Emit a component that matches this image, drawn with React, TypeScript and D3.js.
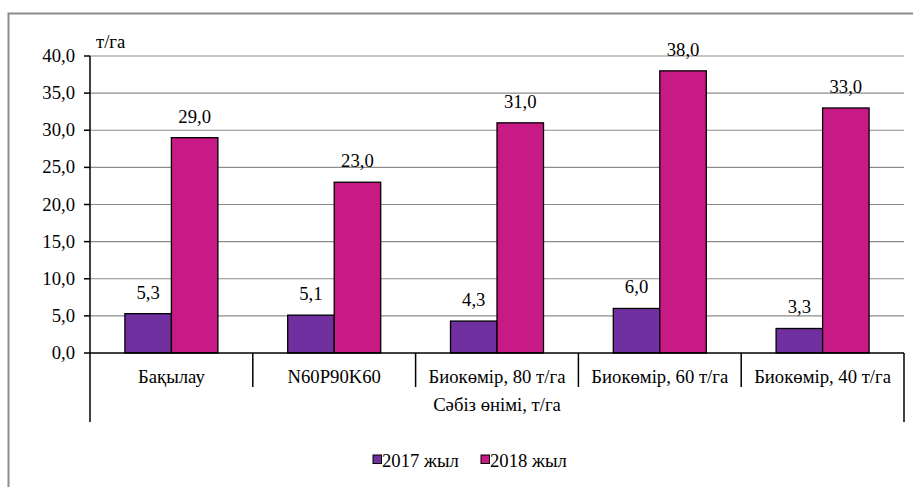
import React from "react";
import * as d3 from "d3";

const categories = ["Бақылау", "N60P90K60", "Биокөмір, 80 т/га", "Биокөмір, 60 т/га", "Биокөмір, 40 т/га"];
const series2017 = [5.3, 5.1, 4.3, 6.0, 3.3];
const series2018 = [29.0, 23.0, 31.0, 38.0, 33.0];
const seriesNames = ["2017 жыл", "2018 жыл"];
const yTicks = [0, 5, 10, 15, 20, 25, 30, 35, 40];
const unitLabel = "т/га";
const axisTitle = "Сәбіз өнімі, т/га";

const colors = ["#7030A0", "#C71A85"];
const ts: React.CSSProperties = { fontFamily: "Liberation Serif, Tinos, DejaVu Serif, serif", fontSize: 18.7 };

export default function App() {
  const W = 913, H = 487;
  const left = 90, right = 904, top = 56, bottom = 353;
  const x = d3.scaleBand<string>().domain(categories).range([left, right]);
  const y = d3.scaleLinear().domain([0, 40]).range([bottom, top]);
  const bw = 46.5;
  const fmt = (v: number) => v.toFixed(1).replace(".", ",");
  const series = [series2017, series2018];

  return (
    <svg width={W} height={H} style={{ position: "fixed", left: 0, top: 0 }}>
      <rect x={0} y={0} width={W} height={H} fill="#fff" />
      <rect x={8.5} y={13.5} width={W + 10} height={H + 10} fill="none" stroke="#8c8c8c" strokeWidth={2} />
      {yTicks.map((t) => (
        <g key={t}>
          {t > 0 && (
            <line x1={left} x2={right} y1={y(t)} y2={y(t)} stroke="#8c8c8c" strokeWidth={1.2} />
          )}
          <line x1={84} x2={left} y1={y(t)} y2={y(t)} stroke="#000" strokeWidth={1.5} />
          <text x={75} y={y(t) + 6} textAnchor="end" style={ts} fill="#000">
            {fmt(t)}
          </text>
        </g>
      ))}
      <text x={96} y={48} style={ts} fill="#000">{unitLabel}</text>
      {categories.map((c, i) => {
        const cx = (x(c) as number) + x.bandwidth() / 2;
        return (
          <g key={c}>
            {series.map((s, j) => {
              const bx = cx - bw + j * bw;
              return (
                <g key={j}>
                  <rect x={bx} y={y(s[i])} width={bw} height={bottom - y(s[i])} fill={colors[j]} stroke="#000" strokeWidth={1.3} />
                  <text x={bx + bw / 2} y={y(s[i]) - 15} textAnchor="middle" style={ts} fill="#000">
                    {fmt(s[i])}
                  </text>
                </g>
              );
            })}
            <text x={cx} y={383} textAnchor="middle" style={ts} fill="#000">{c}</text>
          </g>
        );
      })}
      <line x1={left} x2={right} y1={bottom} y2={bottom} stroke="#000" strokeWidth={1.5} />
      <line x1={left} x2={left} y1={top} y2={422} stroke="#000" strokeWidth={1.5} />
      <line x1={right} x2={right} y1={bottom} y2={422} stroke="#000" strokeWidth={1.5} />
      {categories.slice(1).map((c) => (
        <line key={c} x1={x(c) as number} x2={x(c) as number} y1={bottom} y2={387} stroke="#000" strokeWidth={1.5} />
      ))}
      <text x={(left + right) / 2} y={411} textAnchor="middle" style={ts} fill="#000">{axisTitle}</text>
      {seriesNames.map((n, j) => {
        const lx = j === 0 ? 373 : 481;
        return (
          <g key={n}>
            <rect x={lx} y={455} width={8.5} height={8.5} fill={colors[j]} stroke="#000" strokeWidth={1} />
            <text x={lx + 9} y={467} style={ts} fill="#000">{n}</text>
          </g>
        );
      })}
    </svg>
  );
}
